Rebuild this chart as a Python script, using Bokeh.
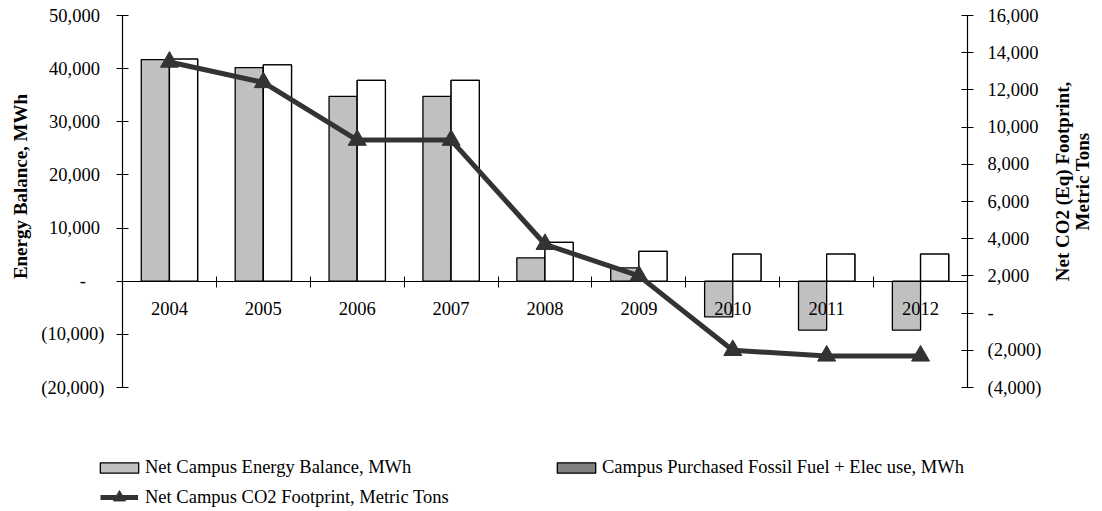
import math
from bokeh.plotting import figure
from bokeh.models import (ColumnDataSource, Range1d, LinearAxis, SingleIntervalTicker, FixedTicker,
                          CustomJSTickFormatter, Legend, LegendItem, Label)
from bokeh.transform import dodge
from bokeh.core.properties import value
from bokeh.embed import file_html
from bokeh.resources import INLINE

years = ["2004", "2005", "2006", "2007", "2008", "2009", "2010", "2011", "2012"]
net_energy_mwh = [41700, 40200, 34800, 34800, 4400, 2500, -6700, -9200, -9200]
purchased_mwh = [41800, 40700, 37800, 37800, 7300, 5600, 5100, 5100, 5100]
co2_tons = [13500, 12400, 9300, 9300, 3700, 2000, -2000, -2300, -2300]

FONT = "Liberation Serif"
FS = "18.5px"

# canvas and plot-area geometry (pixels)
W, H = 1100, 509
FL, FR, FT, FB = 122, 967, 15, 387
LEFT_LIM = (-20000, 50000)
RIGHT_LIM = (-4000, 16000)

n = len(years)
ppx = (FR - FL) / n
ppy = (FB - FT) / (LEFT_LIM[1] - LEFT_LIM[0])
ppy2 = (FB - FT) / (RIGHT_LIM[1] - RIGHT_LIM[0])

x_range = Range1d(-FL / ppx, n + (W - FR) / ppx)
y_range = Range1d(LEFT_LIM[0] - (H - FB) / ppy, LEFT_LIM[1] + FT / ppy)
co2_range = Range1d(RIGHT_LIM[0] - (H - FB) / ppy2, RIGHT_LIM[1] + FT / ppy2)

pos = [i + 0.5 for i in range(n)]
src = ColumnDataSource(dict(pos=pos, year=years, net=net_energy_mwh, purch=purchased_mwh,
                            co2=co2_tons, zero=[0] * n))

p = figure(width=W, height=H, x_range=x_range, y_range=y_range, output_backend="svg",
           toolbar_location=None, x_axis_location=None, y_axis_location=None, min_border=0)
p.outline_line_color = None
p.xgrid.visible = False
p.ygrid.visible = False
p.extra_y_ranges = {"co2": co2_range}

ya = LinearAxis(fixed_location=0, bounds=LEFT_LIM)
ya.ticker = SingleIntervalTicker(interval=10000, num_minor_ticks=0)
ya.formatter = CustomJSTickFormatter(code="""
if (Math.abs(tick) < 1e-6) return "-\\u00a0\\u00a0\\u00a0\\u00a0";
var s = Math.abs(tick).toLocaleString("en-US");
return tick < 0 ? "(" + s + ")" : s + "\\u00a0";
""")
p.add_layout(ya, "left")

ra = LinearAxis(y_range_name="co2", fixed_location=n, bounds=RIGHT_LIM)
ra.ticker = SingleIntervalTicker(interval=2000, num_minor_ticks=0)
ra.formatter = CustomJSTickFormatter(code="""
if (Math.abs(tick) < 1e-6) return "-";
var s = Math.abs(tick).toLocaleString("en-US");
return tick < 0 ? "(" + s + ")" : s;
""")
p.add_layout(ra, "right")

xa = LinearAxis(fixed_location=0, bounds=(0, n))
xa.ticker = FixedTicker(ticks=list(range(1, n)))
xa.formatter = CustomJSTickFormatter(code="return '';")
xa.major_tick_in = 5
xa.major_tick_out = 6
xa.minor_tick_line_color = None
xa.axis_line_width = 1.2
xa.axis_line_color = "black"
xa.major_tick_line_color = "black"
p.add_layout(xa, "below")

for ax, standoff in [(ya, 12), (ra, 14)]:
    ax.major_tick_in = 6
    ax.major_tick_out = 6
    ax.minor_tick_line_color = None
    ax.axis_line_color = "black"
    ax.axis_line_width = 1.2
    ax.major_tick_line_color = "black"
    ax.major_label_text_font = FONT
    ax.major_label_text_font_size = FS
    ax.major_label_text_color = "black"
    ax.major_label_standoff = standoff

# bars (the dark series sits under the white bars and only shows in the legend)
grey = p.vbar(x=dodge("pos", -0.15), top="net", bottom=0, width=0.3, source=src,
              fill_color="#C0C0C0", line_color="black", line_width=1.3)
dark = p.vbar(x=dodge("pos", 0.15), top="purch", bottom=0, width=0.3, source=src,
              fill_color="#808080", line_color="black", line_width=1.3)
p.vbar(x=dodge("pos", 0.15), top="purch", bottom=0, width=0.3, source=src,
       fill_color="white", line_color="black", line_width=1.3)

# category labels
p.text(x="pos", y="zero", text="year", source=src, y_offset=27, text_align="center",
       text_baseline="middle", text_font=value(FONT), text_font_size=FS, text_color="black")

# CO2 line
ln = p.line(x="pos", y="co2", source=src, y_range_name="co2", line_color="#333333",
            line_width=5, level="annotation")
mk = p.scatter(x="pos", y="co2", source=src, y_range_name="co2", marker="triangle", size=18,
               fill_color="#333333", line_color="#333333", level="annotation")

# axis titles
tkw = dict(x_units="screen", y_units="screen", angle=math.pi / 2, text_align="center",
           text_baseline="middle", text_font=FONT, text_font_size="19px",
           text_font_style="bold", text_color="black")
p.add_layout(Label(x=20, y=H - 186, text="Energy Balance, MWh", **tkw))
p.add_layout(Label(x=1062, y=H - 181, text="Net CO2 (Eq) Footprint,", **tkw))
p.add_layout(Label(x=1082, y=H - 181, text="Metric Tons", **tkw))


def mk_legend(items, loc, gw, gh, standoff):
    lg = Legend(items=items, location=loc, orientation="vertical")
    lg.border_line_color = None
    lg.background_fill_alpha = 0
    lg.padding = 0
    lg.margin = 0
    lg.spacing = 0
    lg.label_standoff = standoff
    lg.glyph_width = gw
    lg.glyph_height = gh
    lg.label_height = 21
    lg.label_text_font = FONT
    lg.label_text_font_size = FS
    lg.label_text_color = "black"
    return lg


# legend rows: centres at y=468 and y=497 (from the top of the picture)
p.add_layout(mk_legend([LegendItem(label="Net Campus Energy Balance, MWh", renderers=[grey])],
                       (95, H - 478), 48, 13, 2))
p.add_layout(mk_legend([LegendItem(label="Campus Purchased Fossil Fuel + Elec use, MWh",
                                   renderers=[dark])],
                       (552, H - 478), 48, 13, 2))
p.add_layout(mk_legend([LegendItem(label="Net Campus CO2 Footprint, Metric Tons",
                                   renderers=[ln, mk])],
                       (100, H - 512), 38, 30, 7))

open("out.html", "w").write(file_html(p, INLINE))
